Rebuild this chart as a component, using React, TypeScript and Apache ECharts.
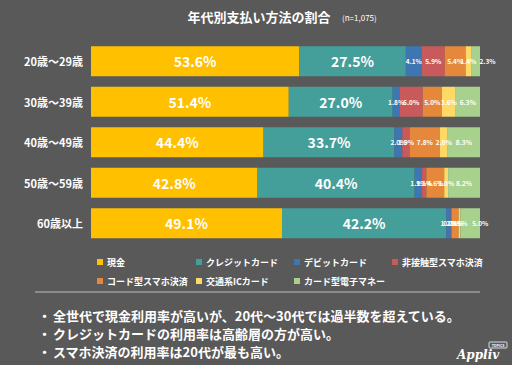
import React, { useEffect, useRef } from "react";
import * as echarts from "echarts";

const categories = ["20歳〜29歳", "30歳〜39歳", "40歳〜49歳", "50歳〜59歳", "60歳以上"];
const seriesNames = [
  "現金",
  "クレジットカード",
  "デビットカード",
  "非接触型スマホ決済",
  "コード型スマホ決済",
  "交通系ICカード",
  "カード型電子マネー",
];
const cash = [53.6, 51.4, 44.4, 42.8, 49.1];
const credit = [27.5, 27.0, 33.7, 40.4, 42.2];
const debit = [4.1, 1.8, 2.0, 1.9, 1.2];
const contactless = [5.9, 6.0, 1.9, 1.1, 0.2];
const qrCode = [5.4, 5.0, 7.8, 4.6, 1.8];
const transitIC = [1.4, 3.6, 2.0, 1.0, 0.5];
const emoney = [2.3, 6.3, 8.3, 8.2, 5.0];
const seriesValues = [cash, credit, debit, contactless, qrCode, transitIC, emoney];
const colors = ["#FFC000", "#449E9A", "#3E76B2", "#C95A5C", "#E5883C", "#FFD966", "#A9D18E"];
const notes = [
  "全世代で現金利用率が高いが、20代〜30代では過半数を超えている。",
  "クレジットカードの利用率は高齢層の方が高い。",
  "スマホ決済の利用率は20代が最も高い。",
];

const FONT = "'Noto Sans CJK JP', 'Noto Sans', sans-serif";

export default function App() {
  const ref = useRef<HTMLDivElement>(null);
  useEffect(() => {
    document.body.style.margin = "0";
    document.body.style.background = "#595959";
    const chart = echarts.init(ref.current!, null, { renderer: "svg" });
    const sums = categories.map((_, i) => seriesValues.reduce((s, arr) => s + arr[i], 0));
    const series = seriesNames.map((name, si) => ({
      name,
      type: "bar",
      stack: "total",
      barWidth: 30,
      itemStyle: { color: colors[si] },
      label: {
        show: true,
        position: "inside",
        color: "#fff",
        fontWeight: "bold",
        fontFamily: FONT,
        fontSize: si < 2 ? 14 : 6.5,
        formatter: (p: any) => seriesValues[si][p.dataIndex].toFixed(1) + "%",
      },
      data: seriesValues[si].map((v, i) => {
        const item: any = { value: (v / sums[i]) * 100 };
        if (si === 6 && (i === 0 || i === 4)) item.label = { offset: [i === 0 ? 12 : 10, 0] };
        return item;
      }),
    }));
    const legendCols = [
      [seriesNames[0], seriesNames[4]],
      [seriesNames[1], seriesNames[5]],
      [seriesNames[2], seriesNames[6]],
      [seriesNames[3]],
    ];
    const legendX = [92, 191, 289, 387];
    const legends = legendCols.map((d, i) => ({
      data: d,
      orient: "vertical",
      left: legendX[i],
      top: 251,
      itemWidth: 6,
      itemHeight: 6,
      itemGap: 7,
      icon: "rect",
      selectedMode: false,
      textStyle: { color: "#fff", fontSize: 9, fontWeight: "bold", fontFamily: FONT, lineHeight: 12, padding: [0, 0, 0, -1] },
    }));
    const graphics: any[] = [
      {
        type: "text",
        x: 259,
        y: 16,
        style: { text: "年代別支払い方法の割合", fill: "#fff", font: `bold 13px ${FONT}`, align: "center", verticalAlign: "middle" },
      },
      {
        type: "text",
        x: 342,
        y: 17,
        style: { text: "(n=1,075)", fill: "#fff", font: `8px ${FONT}`, align: "left", verticalAlign: "middle" },
      },
      {
        type: "line",
        shape: { x1: 35, y1: 292, x2: 480, y2: 292 },
        style: { stroke: "#bfbfbf", lineWidth: 1 },
      },
    ];
    const noteY = [315, 333, 351];
    notes.forEach((t, i) => {
      graphics.push({
        type: "text",
        x: 38,
        y: noteY[i],
        style: { text: "・", fill: "#fff", font: `bold 13px ${FONT}`, align: "left", verticalAlign: "middle" },
      });
      graphics.push({
        type: "text",
        x: 53,
        y: noteY[i],
        style: { text: t, fill: "#fff", font: `bold 13px ${FONT}`, align: "left", verticalAlign: "middle" },
      });
    });
    graphics.push(
      {
        type: "text",
        x: 457,
        y: 355,
        style: { text: "Appliv", fill: "#fff", font: "italic bold 12px 'DejaVu Serif', serif", align: "left", verticalAlign: "middle" },
      },
      {
        type: "rect",
        shape: { x: 489, y: 342, width: 18, height: 6, r: 1 },
        style: { fill: "none", stroke: "#fff", lineWidth: 0.8 },
      },
      {
        type: "text",
        x: 498,
        y: 345,
        style: { text: "TOPICS", fill: "#fff", font: `bold 3.5px ${FONT}`, align: "center", verticalAlign: "middle" },
      }
    );
    chart.setOption({
      animation: false,
      backgroundColor: "#595959",
      grid: { left: 91, right: 32, top: 41, height: 202.5 },
      xAxis: { type: "value", min: 0, max: 100, show: false },
      yAxis: {
        type: "category",
        data: categories,
        inverse: true,
        axisLine: { show: false },
        axisTick: { show: false },
        axisLabel: { color: "#fff", fontSize: 11, fontWeight: "bold", fontFamily: FONT, margin: 8 },
      },
      legend: legends,
      series,
      graphic: graphics,
    });
    return () => chart.dispose();
  }, []);
  return <div ref={ref} style={{ width: 512, height: 365 }} />;
}
